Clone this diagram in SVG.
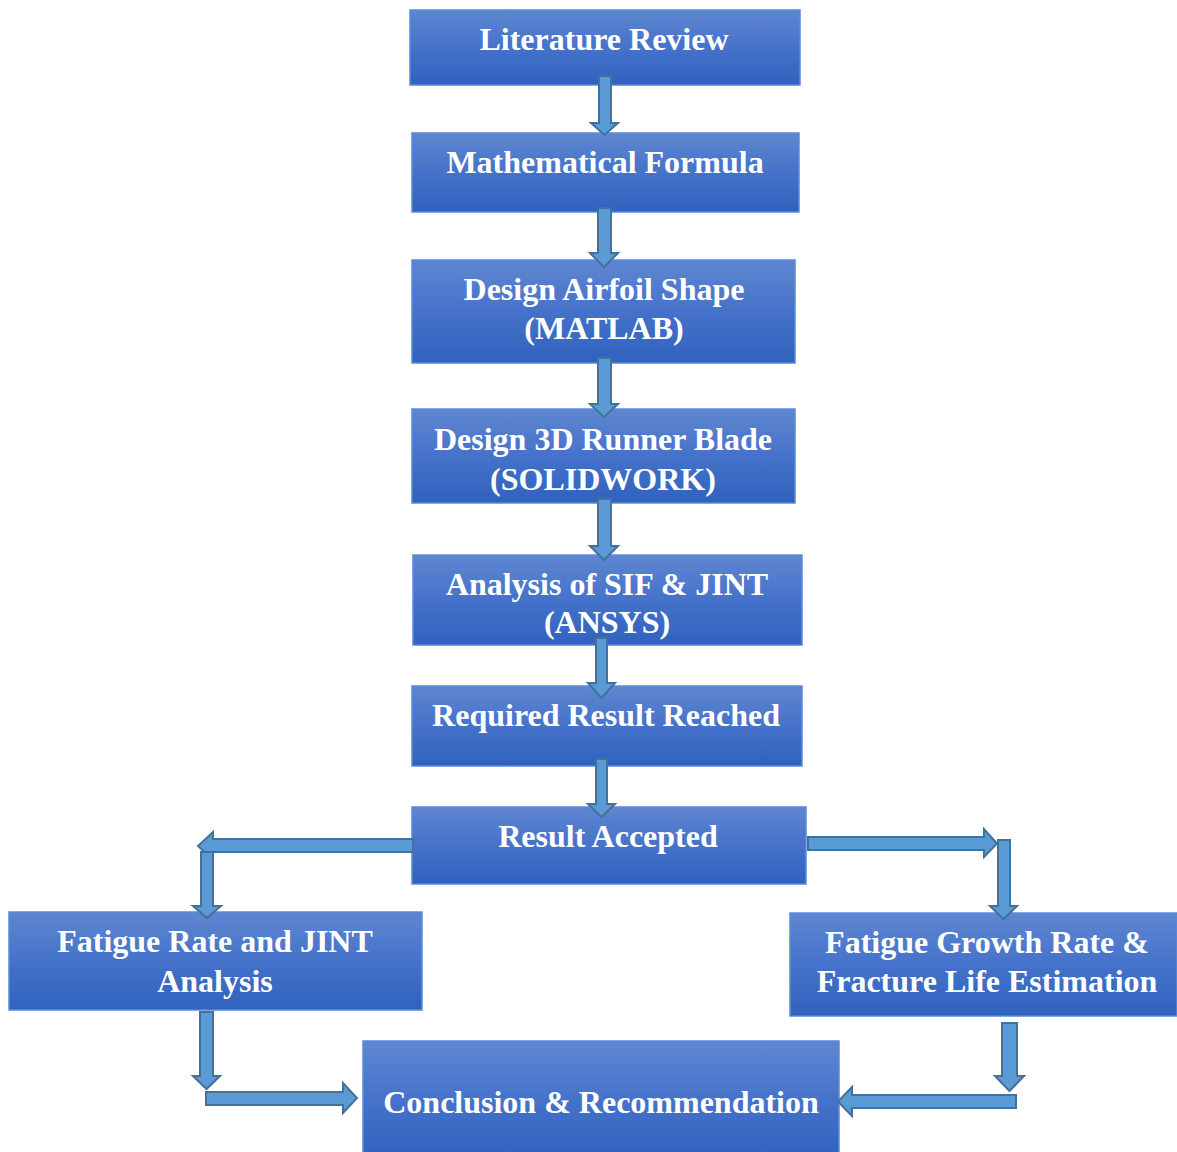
<svg xmlns="http://www.w3.org/2000/svg" width="1177" height="1152" viewBox="0 0 1177 1152">
<defs>
<linearGradient id="g" x1="0" y1="0" x2="0" y2="1">
<stop offset="0" stop-color="#5F86D0"/>
<stop offset="0.5" stop-color="#4572CA"/>
<stop offset="1" stop-color="#2F62BE"/>
</linearGradient>
<style>
.box{fill:url(#g);stroke:#5A8AD6;stroke-width:1.5}
.t{font-family:"Liberation Serif","Times New Roman",serif;font-weight:bold;font-size:32px;fill:#FFFFFF;text-anchor:middle}
.ar{fill:#5B9BD5;stroke:#41719C;stroke-width:2;stroke-linejoin:miter}
</style>
</defs>
<rect width="1177" height="1152" fill="#FFFFFF"/>
<g id="n1"><rect class="box" x="410" y="10" width="390" height="75"/><text class="t" x="604" y="50">Literature Review</text></g>
<g id="n2"><rect class="box" x="412" y="133" width="387" height="79"/><text class="t" x="605" y="173">Mathematical Formula</text></g>
<g id="n3"><rect class="box" x="412" y="260" width="383" height="103"/><text class="t" x="604" y="300">Design Airfoil Shape</text><text class="t" x="604" y="339">(MATLAB)</text></g>
<g id="n4"><rect class="box" x="412" y="409" width="383" height="94"/><text class="t" x="603" y="450">Design 3D Runner Blade</text><text class="t" x="603" y="490">(SOLIDWORK)</text></g>
<g id="n5"><rect class="box" x="413" y="555" width="389" height="90"/><text class="t" x="607" y="595">Analysis of SIF &amp; JINT</text><text class="t" x="607" y="633">(ANSYS)</text></g>
<g id="n6"><rect class="box" x="412" y="686" width="390" height="80"/><text class="t" x="606" y="726">Required Result Reached</text></g>
<g id="n7"><rect class="box" x="412" y="807" width="394" height="77"/><text class="t" x="608" y="847">Result Accepted</text></g>
<g id="n8"><rect class="box" x="9" y="912" width="413" height="98"/><text class="t" x="215" y="952">Fatigue Rate and JINT</text><text class="t" x="215" y="992">Analysis</text></g>
<g id="n9"><rect class="box" x="790" y="913" width="387" height="103"/><text class="t" x="987" y="953">Fatigue Growth Rate &amp;</text><text class="t" x="987" y="992">Fracture Life Estimation</text></g>
<g id="n10"><rect class="box" x="363" y="1041" width="476" height="120"/><text class="t" x="601" y="1113">Conclusion &amp; Recommendation</text></g>
<g id="connectors">
<path class="ar" d="M599,76 H611 V123 H618 L604.5,135 L591,123 H599 Z"/>
<path class="ar" d="M598,208 H611 V253 H618 L604,267 L590,253 H598 Z"/>
<path class="ar" d="M598,358 H611 V404 H618 L604,417 L590,404 H598 Z"/>
<path class="ar" d="M598,499 H611 V546 H618 L604,560 L590,546 H598 Z"/>
<path class="ar" d="M596,638 H607 V683 H615 L601.5,698 L588,683 H596 Z"/>
<path class="ar" d="M596,759 H607 V804 H615 L601.5,817 L588,804 H596 Z"/>
<path class="ar" d="M413,839 V852 H213 V860 L198,846 L213,832 V839 Z"/>
<path class="ar" d="M201,852 H213 V906 H221 L207,918 L193,906 H201 Z"/>
<path class="ar" d="M808,837 V850 H984 V857 L997,843.5 L984,829 V837 Z"/>
<path class="ar" d="M998,840 H1010 V906 H1017 L1003.5,919 L990,906 H998 Z"/>
<path class="ar" d="M200,1012 H213 V1076 H220 L206.5,1089 L193,1076 H200 Z"/>
<path class="ar" d="M206,1092 V1105 H343 V1113 L357,1098 L343,1083 V1092 Z"/>
<path class="ar" d="M1002,1023 H1017 V1076 H1024 L1009.5,1091 L995,1076 H1002 Z"/>
<path class="ar" d="M1016,1095 V1108 H852 V1116 L838,1101.5 L852,1087 V1095 Z"/>
</g>
</svg>
